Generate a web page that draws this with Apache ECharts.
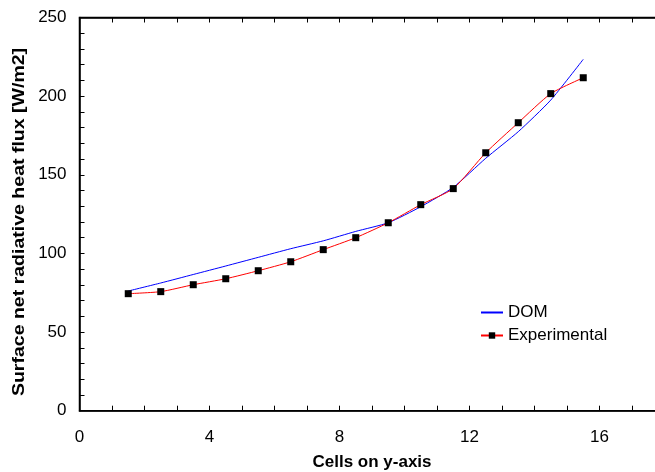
<!DOCTYPE html>
<html><head><meta charset="utf-8">
<script src="https://cdn.jsdelivr.net/npm/echarts@6/dist/echarts.min.js"></script>
<style>html,body{margin:0;padding:0;background:#fff}#c{width:655px;height:472px}</style>
</head><body><div id="c"></div>
<script>
var cells = [1.5,2.5,3.5,4.5,5.5,6.5,7.5,8.5,9.5,10.5,11.5,12.5,13.5,14.5,15.5];
var domValues = [76.1,81.2,86.6,92.0,97.5,103.0,108.0,114.0,119.5,129.7,142.0,160.5,177.4,197.5,223.4];
var expValues = [74.4,75.7,80.1,83.9,89.0,94.7,102.4,110.0,119.5,131.0,141.2,164.0,183.1,201.6,211.7];
var xTicks = [0,4,8,12,16];
var yTicks = [0,50,100,150,200,250];

function pairs(xs, ys){ return xs.map(function(x,i){ return [x, ys[i]]; }); }
var font = 'Liberation Sans, Arial, sans-serif';
var chart = echarts.init(document.getElementById('c'), null, {renderer:'canvas'});
chart.setOption({
  animation:false,
  backgroundColor:'#fff',
  grid:{left:79.5, top:17.5, width:585, height:393.2, containLabel:false, outerBoundsMode:'none',
        show:true, borderColor:'#000', borderWidth:1.5},
  xAxis:[{
    type:'value', min:0, max:18, interval:1,
    name:'Cells on y-axis', nameLocation:'middle', nameGap:43,
    nameTextStyle:{fontFamily:font, fontWeight:'bold', fontSize:17, color:'#000'},
    axisLine:{show:true, lineStyle:{color:'#000', width:1.5}},
    axisTick:{show:true, inside:true, length:5, lineStyle:{color:'#000'}},
    axisLabel:{fontFamily:font, fontSize:17, color:'#000', margin:18,
      formatter:function(v){ return xTicks.indexOf(v)>=0 ? String(v) : ''; }},
    splitLine:{show:false}
  },{
    type:'value', position:'top', min:0, max:18, interval:1,
    axisLine:{show:true, lineStyle:{color:'#000', width:1.5}},
    axisTick:{show:true, inside:true, length:5, lineStyle:{color:'#000'}},
    axisLabel:{show:false}, splitLine:{show:false}
  }],
  yAxis:{
    type:'value', min:0, max:250, interval:10,
    axisLine:{show:true, lineStyle:{color:'#000', width:1.5}},
    axisTick:{show:true, inside:true, length:5, lineStyle:{color:'#000'}},
    axisLabel:{fontFamily:font, fontSize:17, color:'#000', margin:13,
      formatter:function(v){ return yTicks.indexOf(v)>=0 ? String(v) : ''; }},
    splitLine:{show:false}
  },
  legend:{
    left:480, top:304, padding:0, orient:'vertical', itemGap:6, itemWidth:22, itemHeight:8,
    textStyle:{fontFamily:font, fontSize:17, color:'#000'},
    data:[{name:'DOM', itemStyle:{opacity:0}},{name:'Experimental'}]
  },
  graphic:[{
    type:'text', x:20, y:222, rotation:Math.PI/2, scaleX:1.22,
    style:{text:'Surface net radiative heat flux [W/m2]', font:'bold 16px '+font, fill:'#000', textAlign:'center', textVerticalAlign:'middle'}
  }],
  series:[{
    name:'DOM', type:'line', data:pairs(cells, domValues), showSymbol:false, symbol:'none',
    smooth:0.2, lineStyle:{color:'#0000ff', width:1}, itemStyle:{color:'#0000ff'}
  },{
    name:'Experimental', type:'line', data:pairs(cells, expValues), symbol:'rect', symbolSize:7,
    smooth:0.2, lineStyle:{color:'#ff0000', width:1}, itemStyle:{color:'#000'}
  }]
});
</script></body></html>
